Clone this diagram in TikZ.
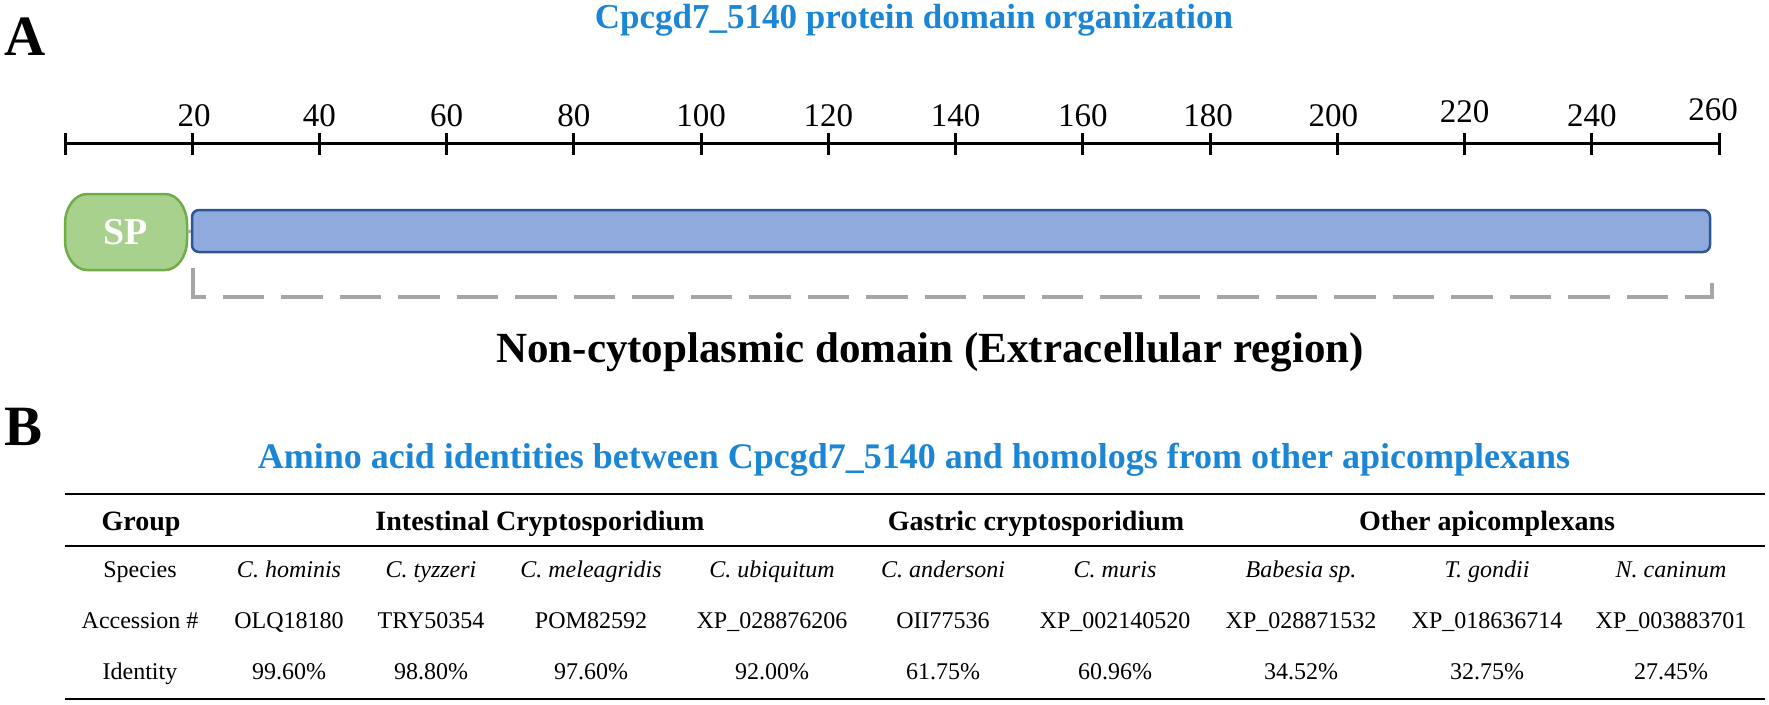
\documentclass[tikz,border=0pt]{standalone}
\usepackage{fontspec}
\setmainfont{Liberation Serif}
\definecolor{ttlblue}{RGB}{28,134,214}
\definecolor{spfill}{RGB}{169,209,142}
\definecolor{spdraw}{RGB}{112,173,71}
\definecolor{barfill}{RGB}{143,170,220}
\definecolor{bardraw}{RGB}{47,85,151}
\definecolor{brgray}{RGB}{166,166,166}
\newcommand{\fsz}[1]{\fontsize{#1}{#1}\selectfont}
\begin{document}
\begin{tikzpicture}[x=1pt,y=-1pt,
  panel/.style={anchor=base west, inner sep=0pt, font=\fsz{57}\bfseries},
  ttl/.style={anchor=base, inner sep=0pt, text=ttlblue, font=\fsz{35}\bfseries},
  ticklbl/.style={anchor=base, inner sep=0pt, font=\fsz{33}},
  axisline/.style={line width=3pt, black},
  spbox/.style={minimum width=122pt, minimum height=76pt, inner sep=0pt, text=white, font=\fsz{38}\bfseries},
  spshape/.style={draw=spdraw, fill=spfill, line width=2.5pt},
  barbox/.style={draw=bardraw, fill=barfill, line width=2.5pt, rounded corners=7pt,
     minimum width=1518pt, minimum height=42pt, inner sep=0pt},
  bracket/.style={draw=brgray, line width=4pt, dash pattern=on 41.5pt off 17pt},
  domlbl/.style={anchor=base, inner sep=0pt, font=\fsz{43}\bfseries},
  rule/.style={line width=2.6pt, black},
  hdr/.style={anchor=base, inner sep=0pt, font=\fsz{28}\bfseries},
  cell/.style={anchor=base, inner sep=0pt, font=\fsz{24}},
  spc/.style={anchor=base, inner sep=0pt, font=\fsz{24}\itshape}
]
\useasboundingbox (0,0) rectangle (1769,704);

% ---------- Panel A ----------
\node[panel] (pA) at (4,55) {A};
\node[ttl] (tA) at (914,28) {Cpcgd7\_5140 protein domain organization};

\coordinate (ax0) at (65,143);
\coordinate (ax1) at (1719,143);
\draw[axisline] (ax0) -- (ax1);
\foreach \i in {0,...,13}{
  \pgfmathsetmacro{\xx}{65+\i*127.23}
  \draw[axisline] (\xx,133) -- (\xx,155);
}
\foreach \i/\lab/\dy/\dx in {1/20/0/2,2/40/0/0,3/60/0/0,4/80/0/0,5/100/0/0,6/120/0/0,7/140/0/0,8/160/0/0,9/180/0/-2,10/200/0/-4,11/220/-4/0,12/240/0/0,13/260/-6/-6}{
  \pgfmathsetmacro{\xx}{65+\i*127.23+\dx}
  \pgfmathsetmacro{\yy}{126+\dy}
  \node[ticklbl] (tk\i) at (\xx,\yy) {\lab};
}

% SP box with elliptical corners
\draw[spshape] (87,194) -- (165,194)
   arc[start angle=-90, end angle=0, x radius=22, y radius=30]
   -- (187,240)
   arc[start angle=0, end angle=90, x radius=22, y radius=30]
   -- (87,270)
   arc[start angle=90, end angle=180, x radius=22, y radius=30]
   -- (65,224)
   arc[start angle=180, end angle=270, x radius=22, y radius=30]
   -- cycle;
\node[spbox] (sp) at (126,232) {SP};
\node[barbox] (bar) at (951,231) {};
\draw[brgray, line width=3pt] (sp.east) -- (bar.west);

\coordinate (bl) at (193,268);
\coordinate (br) at (1712,268);
\draw[bracket] (bl) -- ++(0,29) -| (br);

\node[domlbl] (dom) at (930,362) {Non-cytoplasmic domain (Extracellular region)};

% ---------- Panel B ----------
\node[panel] (pB) at (4,445) {B};
\node[ttl, font=\fsz{36}\bfseries] (tB) at (914,468) {Amino acid identities between Cpcgd7\_5140 and homologs from other apicomplexans};

\coordinate (r1a) at (65,494);  \coordinate (r1b) at (1765,494);
\coordinate (r2a) at (65,546);  \coordinate (r2b) at (1765,546);
\coordinate (r3a) at (65,699);  \coordinate (r3b) at (1765,699);
\draw[rule] (r1a) -- (r1b);
\draw[rule] (r2a) -- (r2b);
\draw[rule] (r3a) -- (r3b);

\node[hdr] (hG) at (141,530) {Group};
\node[hdr] (hI) at (540,530) {Intestinal Cryptosporidium};
\node[hdr] (hS) at (1036,530) {Gastric cryptosporidium};
\node[hdr] (hO) at (1487,530) {Other apicomplexans};

\node[cell] (lS) at (140,577) {Species};
\node[cell] (lA) at (140,628) {Accession \#};
\node[cell] (lI) at (140,679) {Identity};

\foreach \n/\x/\sp/\acc/\idt in {
  1/289/C. hominis/OLQ18180/99.60\%,
  2/431/C. tyzzeri/TRY50354/98.80\%,
  3/591/C. meleagridis/POM82592/97.60\%,
  4/772/C. ubiquitum/XP\_028876206/92.00\%,
  5/943/C. andersoni/OII77536/61.75\%,
  6/1115/C. muris/XP\_002140520/60.96\%,
  7/1301/Babesia sp./XP\_028871532/34.52\%,
  8/1487/T. gondii/XP\_018636714/32.75\%,
  9/1671/N. caninum/XP\_003883701/27.45\%}{
  \node[spc] (s\n) at (\x,577) {\sp};
  \node[cell] (a\n) at (\x,628) {\acc};
  \node[cell] (d\n) at (\x,679) {\idt};
}
\end{tikzpicture}
\end{document}
